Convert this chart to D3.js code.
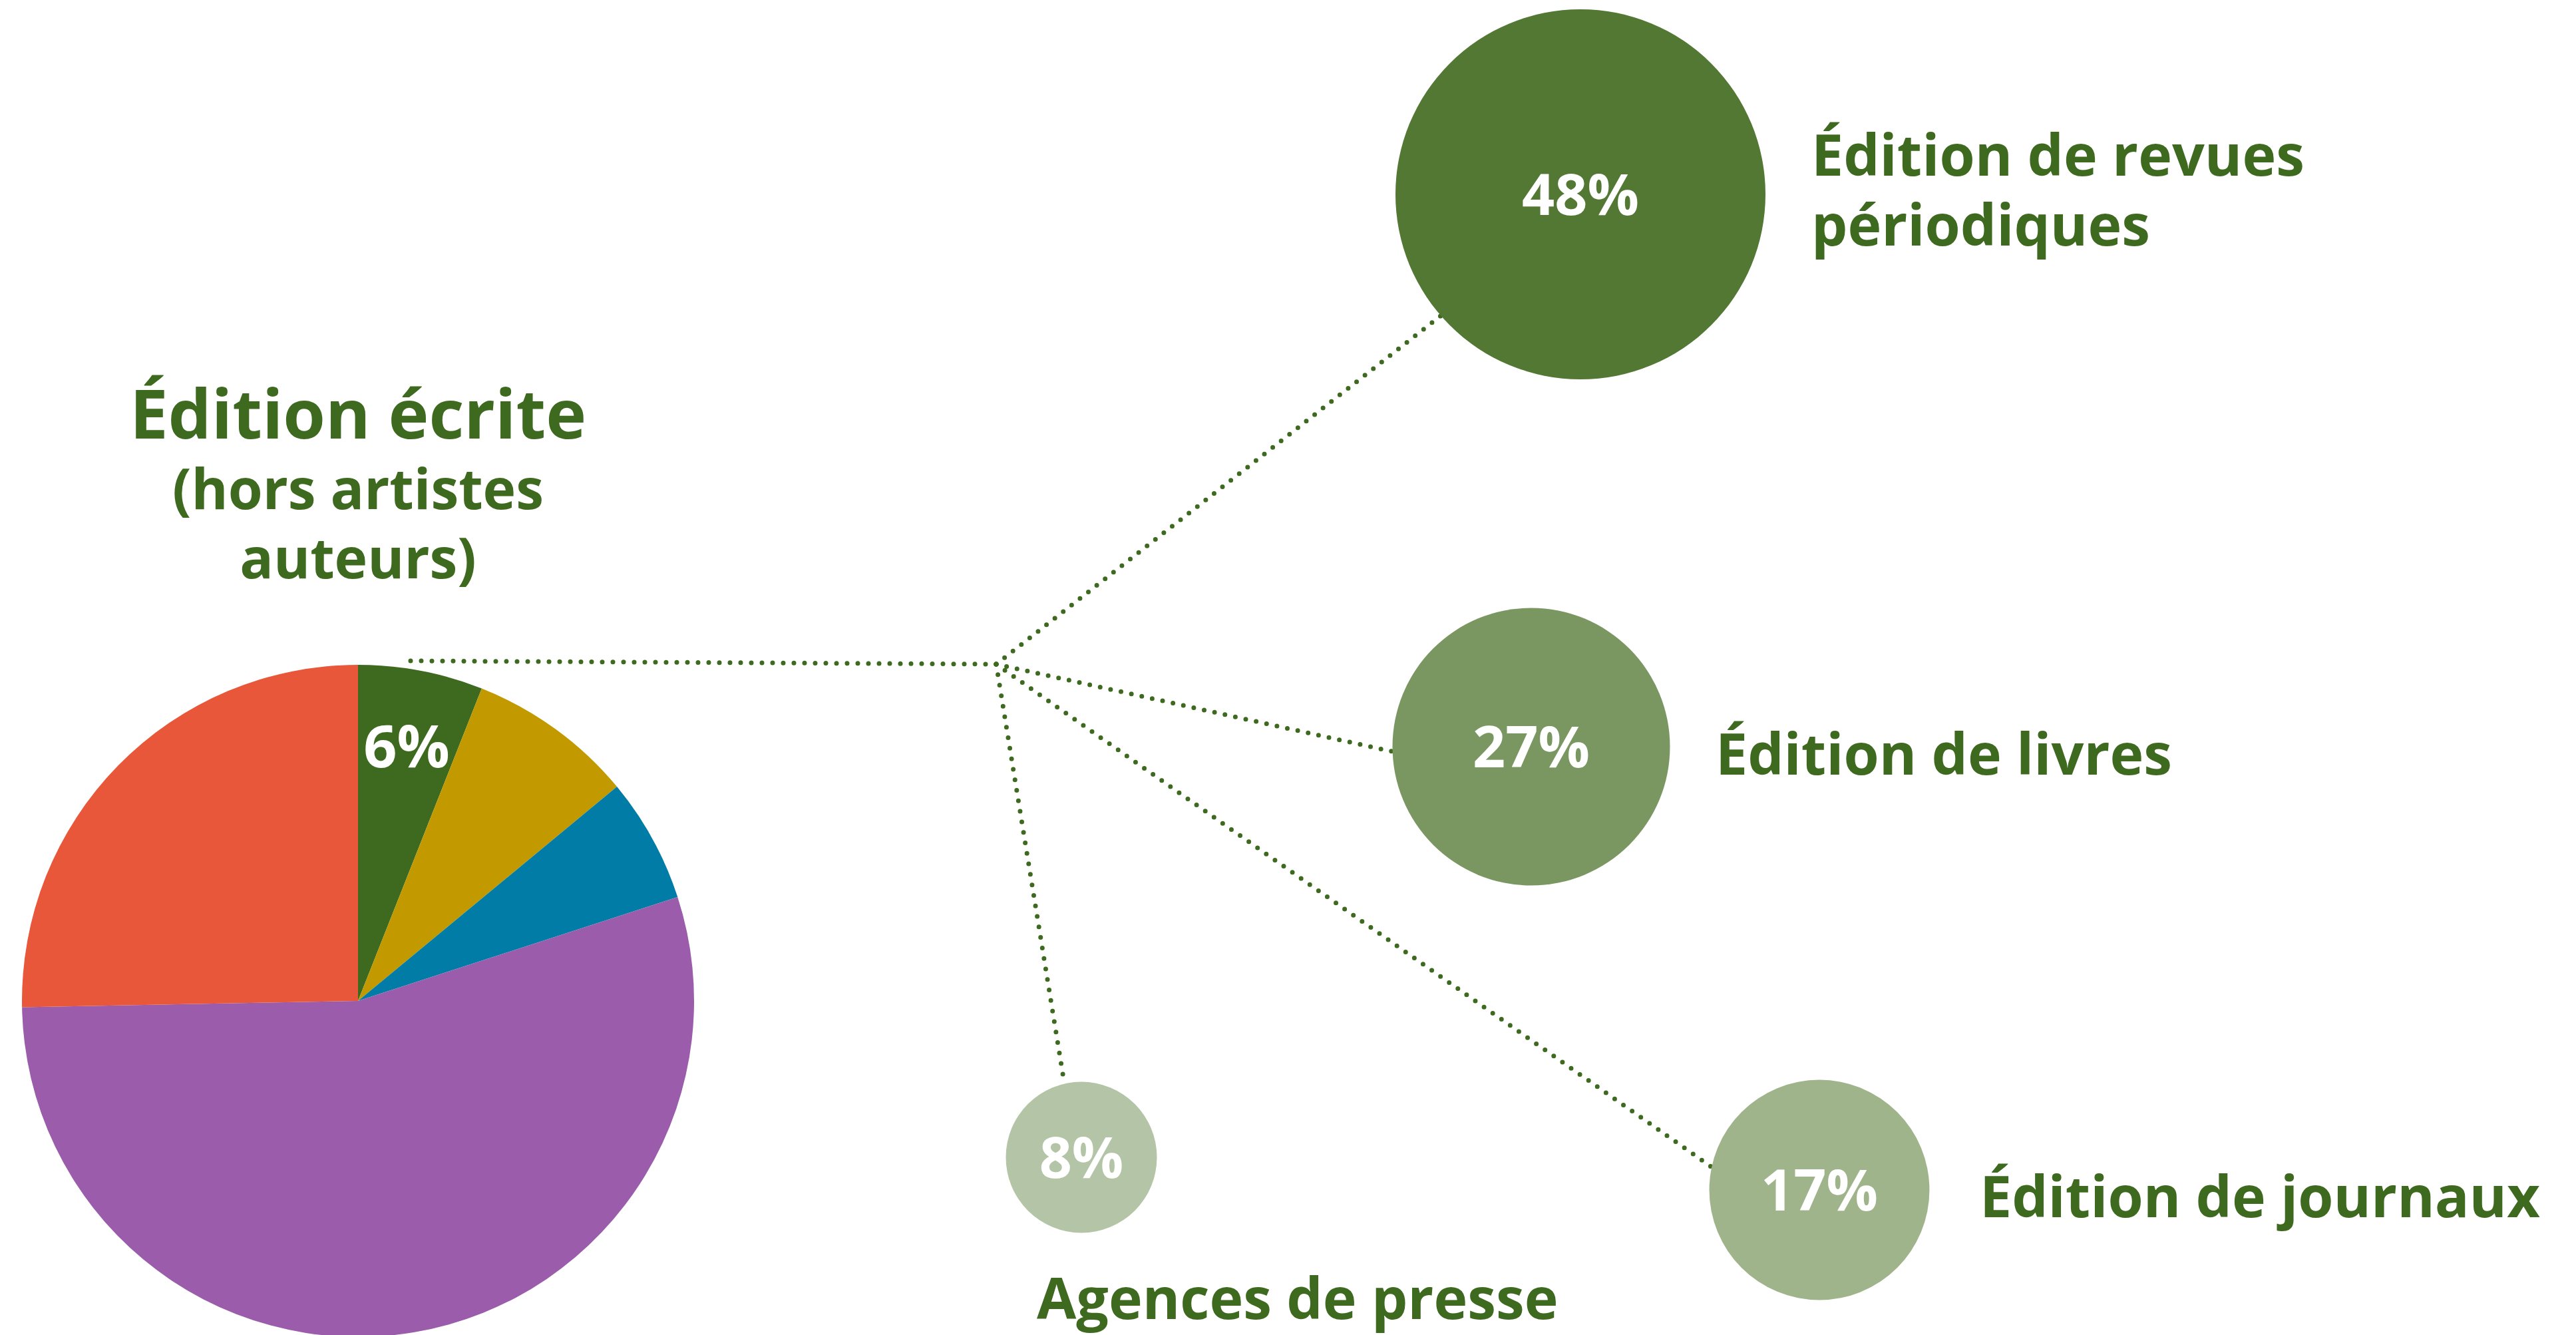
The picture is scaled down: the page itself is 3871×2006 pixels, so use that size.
<!DOCTYPE html>
<html lang="fr">
<head>
<meta charset="utf-8">
<script src="https://cdn.jsdelivr.net/npm/d3@7"></script>
<style>
  body { margin: 0; background: #fff; }
  svg { display: block; font-family: "Open Sans", sans-serif; font-weight: 700; }
</style>
</head>
<body>
<div id="chart"></div>
<script>
// pie: share of each sector, clockwise from 12 o'clock (only the first one is labelled)
const pieCategories = ["Édition écrite", "Secteur 2", "Secteur 3", "Secteur 4", "Secteur 5"];
const pieValues = [6, 8, 6, 54.7, 25.3];
const pieColors = ["#3e6a1f", "#c29a00", "#007ca6", "#9b5dab", "#e8573a"];

// breakdown of "Édition écrite"
const subCategories = ["Édition de revues périodiques", "Édition de livres", "Édition de journaux", "Agences de presse"];
const subValues = [48, 27, 17, 8];
const subLabelLines = [["Édition de revues", "périodiques"], ["Édition de livres"], ["Édition de journaux"], ["Agences de presse"]];
const subColors = ["#527834", "#7a9762", "#a0b48c", "#b3c5a6"];

const titleLines = ["Édition écrite", "(hors artistes", "auteurs)"];

const width = 3871,
  height = 2006;

const green = "#3e6a1f";

// layout (where things sit on the page)
const pieCx = 538, pieCy = 1504, pieR = 505;
const hub = [1497, 998];
// bubble centre, angle (deg, clockwise from up) where the connector touches, label anchor
const bubbleLayout = [
  { cx: 2375, cy: 292, hook: 229, lx: 2722, ly: 264 },
  { cx: 2301, cy: 1122, hook: 268, lx: 2578, ly: 1164 },
  { cx: 2734, cy: 1788, hook: 282, lx: 2975, ly: 1829 },
  { cx: 1625, cy: 1739, hook: 347, lx: 1558, ly: 1982 }
];

const svg = d3.select("#chart")
  .append("svg")
  .attr("width", width)
  .attr("height", height)
  .attr("viewBox", [0, 0, width, height]);

const rScale = d3.scaleSqrt()
  .domain([0, 48])
  .range([0, 278]);

const pie = d3.pie().sort(null).value(d => d);
const arcs = pie(pieValues);
const arc = d3.arc().innerRadius(0).outerRadius(pieR);
const labelArc = d3.arc().innerRadius(390).outerRadius(390);

// dotted connectors (drawn first so the bubbles sit on top)
const dots = svg.append("g")
  .attr("fill", "none")
  .attr("stroke", green)
  .attr("stroke-width", 7)
  .attr("stroke-linecap", "round")
  .attr("stroke-dasharray", "0 16");

dots.append("line")
  .attr("x1", pieCx + 79)
  .attr("y1", pieCy - pieR - 6)
  .attr("x2", hub[0])
  .attr("y2", hub[1]);

dots.selectAll("line.link")
  .data(subValues)
  .join("line")
  .attr("class", "link")
  .attr("x1", hub[0])
  .attr("y1", hub[1])
  .attr("x2", (d, i) => bubbleLayout[i].cx + rScale(d) * Math.sin(bubbleLayout[i].hook * Math.PI / 180))
  .attr("y2", (d, i) => bubbleLayout[i].cy - rScale(d) * Math.cos(bubbleLayout[i].hook * Math.PI / 180));

// pie
const pieG = svg.append("g")
  .attr("transform", `translate(${pieCx},${pieCy})`);

pieG.selectAll("path")
  .data(arcs)
  .join("path")
  .attr("fill", (d, i) => pieColors[i])
  .attr("d", arc);

pieG.append("text")
  .attr("transform", `translate(${labelArc.centroid(arcs[0])})`)
  .attr("text-anchor", "middle")
  .attr("dy", "0.36em")
  .attr("fill", "#fff")
  .attr("font-size", 88)
  .text(Math.round(pieValues[0]) + "%");

// title above the pie
svg.append("g")
  .attr("fill", green)
  .attr("text-anchor", "middle")
  .selectAll("text")
  .data(titleLines)
  .join("text")
  .attr("x", pieCx)
  .attr("y", (d, i) => i === 0 ? 659 : 659 + 106 + (i - 1) * 104)
  .attr("font-size", (d, i) => i === 0 ? 103 : 84)
  .text(d => d);

// bubbles
const bub = svg.append("g")
  .selectAll("g")
  .data(subValues)
  .join("g")
  .attr("transform", (d, i) => `translate(${bubbleLayout[i].cx},${bubbleLayout[i].cy})`);

bub.append("circle")
  .attr("r", d => rScale(d))
  .attr("fill", (d, i) => subColors[i]);

bub.append("text")
  .attr("text-anchor", "middle")
  .attr("dy", "0.36em")
  .attr("fill", "#fff")
  .attr("font-size", 86)
  .text(d => d + "%");

// bubble labels
svg.append("g")
  .attr("fill", green)
  .attr("font-size", 86)
  .selectAll("text")
  .data(subLabelLines)
  .join("text")
  .attr("x", (d, i) => bubbleLayout[i].lx)
  .attr("y", (d, i) => bubbleLayout[i].ly)
  .selectAll("tspan")
  .data(d => d)
  .join("tspan")
  .attr("x", function () { return this.parentNode.getAttribute("x"); })
  .attr("dy", (d, j) => j === 0 ? 0 : 105)
  .text(d => d);
</script>
</body>
</html>
